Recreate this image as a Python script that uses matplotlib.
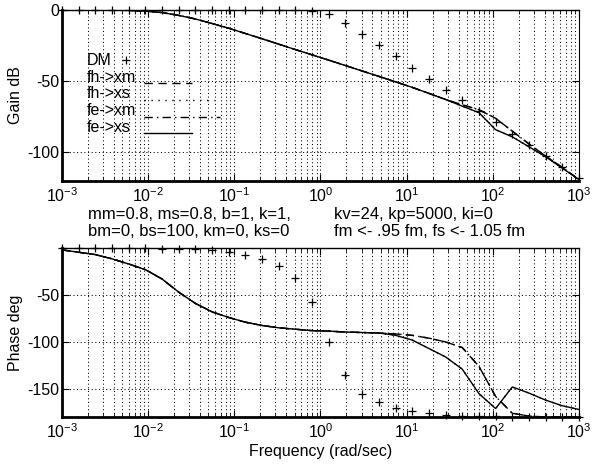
import matplotlib
matplotlib.use("Agg")
import matplotlib.pyplot as plt
from matplotlib.ticker import LogLocator, NullFormatter

plt.rcParams['font.family'] = ['Liberation Sans', 'DejaVu Sans']
plt.rcParams['font.size'] = 11.5
plt.rcParams['axes.unicode_minus'] = False
plt.rcParams['mathtext.fontset'] = 'custom'
plt.rcParams['mathtext.rm'] = 'Liberation Sans'
plt.rcParams['mathtext.it'] = 'Liberation Sans:italic'
plt.rcParams['mathtext.bf'] = 'Liberation Sans:bold'

# Frequencias (rad/sec) - 32 pontos
freq = [0.001, 0.001561, 0.002438, 0.003807, 0.005944, 0.009284, 0.0145, 0.02264,
        0.03535, 0.0552, 0.0862, 0.1346, 0.2102, 0.3282, 0.5125, 0.8003,
        1.25, 1.951, 3.047, 4.758, 7.43, 11.6, 18.12, 28.29,
        44.18, 68.99, 107.7, 168.2, 262.7, 410.2, 640.6, 1000.0]
decadas = [1e-3, 1e-2, 1e-1, 1e0, 1e1, 1e2, 1e3]

# Ganho (dB)
dm_gain = [0, 0, 0, 0, 0, 0, 0, 0, 0, 0, 0, 0, 0, 0, 0, -0.5,
           -2.5, -9, -17, -24.5, -32.5, -40.8, -48.3, -55.8,
           -63.2, -71.2, -78.8, -86.7, -94.6, -102.4, -110.2, -118]
xm_gain = [0, 0, 0, -0.1, -0.3, -0.8, -1.8, -3.8, -6.3, -9.5, -12.8, -16.5, -20.2, -24, -27.8, -31.5,
           -35.2, -39, -42.8, -46.6, -50.4, -54.3, -58.5, -62.8,
           -66.5, -70, -76, -85, -94, -102.5, -110.5, -119]
xs_gain = [0, 0, 0, -0.1, -0.3, -0.8, -1.8, -3.8, -6.3, -9.5, -12.8, -16.5, -20.2, -24, -27.8, -31.5,
           -35.2, -39, -42.8, -46.6, -50.4, -54.3, -58.5, -62.8,
           -67.5, -72, -84, -89, -96, -103, -111, -119]

# Fase (graus)
dm_phase = [0, 0, -0.1, -0.1, -0.2, -0.3, -0.5, -0.7, -1.2, -2.5, -4.5, -7.5, -12, -19.5, -32, -57,
            -100, -135, -155, -164.5, -170.5, -174, -176, -177.5,
            -178.5, -179, -179.4, -179.6, -179.8, -179.9, -179.9, -180]
xm_phase = [-2, -4.5, -7, -11.5, -17, -23, -33, -47, -59, -68, -74, -79, -82.5, -85, -86.5, -88,
            -88.5, -89.5, -90, -90.5, -91.5, -93, -96, -100,
            -106, -126, -158, -176, -179, -180, -180, -180]
xs_phase = [-2, -4.5, -7, -11.5, -17, -23, -33, -47, -59, -68, -74, -79, -82.5, -85, -86.5, -88,
            -88.5, -89.5, -90, -90.5, -93, -98, -107, -116,
            -129, -155, -171, -148, -154.5, -162, -168, -172]

labels = ["DM", "fh->xm", "fh->xs", "fe->xm", "fe->xs"]
estilos = [(0, (6, 4)), (0, (1, 4)), (0, (6, 3, 1, 3)), '-']

texto_esq = ["mm=0.8, ms=0.8, b=1, k=1,", "bm=0, bs=100, km=0, ks=0"]
texto_dir = ["kv=24, kp=5000, ki=0", "fm <- .95 fm, fs <- 1.05 fm"]

fig = plt.figure(figsize=(5.92, 4.65), dpi=100)
ax1 = fig.add_axes([0.1047, 0.6108, 0.8733, 0.3677])
ax2 = fig.add_axes([0.1047, 0.1032, 0.8733, 0.3634])


def formatar(ax, ylim, yticks):
    ax.set_xscale('log')
    ax.set_xlim(1e-3, 1e3)
    ax.set_ylim(*ylim)
    ax.set_yticks(yticks)
    ax.set_xticks(decadas)
    ax.xaxis.set_minor_locator(LogLocator(base=10, subs=range(2, 10), numticks=10))
    ax.xaxis.set_minor_formatter(NullFormatter())
    ax.grid(True, which='major', color='black', linestyle=(0, (1, 2.5)), linewidth=0.75)
    ax.grid(True, which='minor', axis='x', color='black', linestyle=(0, (1, 2.5)), linewidth=0.75)
    ax.tick_params(which='both', direction='in', top=True, right=True, colors='black')
    ax.tick_params(which='major', length=5, width=0.8, pad=4)
    ax.tick_params(axis='y', pad=2)
    ax.tick_params(which='minor', length=3, width=0.6)
    ax.spines['left'].set_linewidth(2.0)
    ax.spines['bottom'].set_linewidth(2.0)
    ax.spines['top'].set_linewidth(1.0)
    ax.spines['right'].set_linewidth(0.8)


# Grafico de ganho
ax1.plot(freq, xm_gain, color='black', linestyle=estilos[0], linewidth=1.0)
ax1.plot(freq, xs_gain, color='black', linestyle=estilos[1], linewidth=1.0)
ax1.plot(freq, xm_gain, color='black', linestyle=estilos[2], linewidth=1.0)
ax1.plot(freq, xs_gain, color='black', linestyle=estilos[3], linewidth=1.0)
ax1.plot(freq, dm_gain, linestyle='none', marker='+', color='black', markersize=6,
         markeredgewidth=0.9, clip_on=False)
formatar(ax1, (-120, 0), [-100, -50, 0])
ax1.set_ylabel("Gain dB")
ax1.yaxis.set_label_coords(-0.076, 0.5)

# legenda escrita dentro do grafico
ys = [0.705, 0.607, 0.509, 0.411, 0.313]
for lab, y in zip(labels, ys):
    ax1.text(0.0484, y, lab, transform=ax1.transAxes, va='center', ha='left')
ax1.plot([0.124], [ys[0]], transform=ax1.transAxes, marker='+', color='black',
         markersize=6, markeredgewidth=0.9)
fins = [0.252, 0.294, 0.306, 0.252]
for est, y, fim in zip(estilos, ys[1:], fins):
    ax1.plot([0.158, fim], [y - 0.035, y - 0.035], transform=ax1.transAxes,
             color='black', linestyle=est, linewidth=1.0)

# Grafico de fase
ax2.plot(freq, xm_phase, color='black', linestyle=estilos[0], linewidth=1.0)
ax2.plot(freq, xs_phase, color='black', linestyle=estilos[1], linewidth=1.0)
ax2.plot(freq, xm_phase, color='black', linestyle=estilos[2], linewidth=1.0)
ax2.plot(freq, xs_phase, color='black', linestyle=estilos[3], linewidth=1.0)
ax2.plot(freq, dm_phase, linestyle='none', marker='+', color='black', markersize=6,
         markeredgewidth=0.9, clip_on=False)
formatar(ax2, (-180, 0), [-150, -100, -50])
ax2.set_ylabel("Phase deg")
ax2.yaxis.set_label_coords(-0.076, 0.5)
ax2.set_xlabel("Frequency (rad/sec)", labelpad=2)

# parametros entre os graficos
for i in range(2):
    y = 1 - (214 + 17 * i) / 465
    fig.text(88 / 592, y, texto_esq[i], va='center', ha='left', fontsize=12)
    fig.text(334 / 592, y, texto_dir[i], va='center', ha='left', fontsize=12)

fig.savefig("out.png", dpi=100)
